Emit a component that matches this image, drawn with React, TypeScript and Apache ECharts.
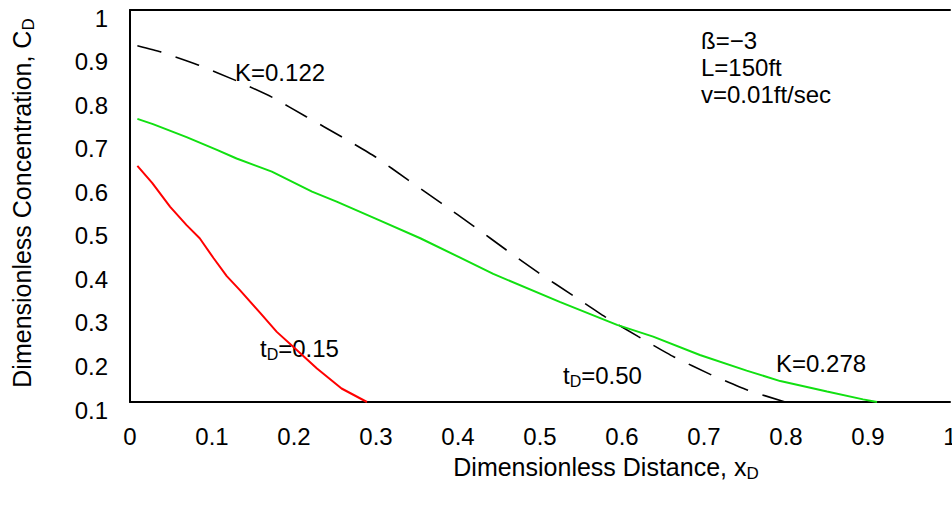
import React, { useEffect, useRef } from "react";
import * as echarts from "echarts";

const xTicks = [0, 0.1, 0.2, 0.3, 0.4, 0.5, 0.6, 0.7, 0.8, 0.9, 1];
const yTicks = [0.1, 0.2, 0.3, 0.4, 0.5, 0.6, 0.7, 0.8, 0.9, 1];

// K = 0.122 (dashed black)
const k122X = [0.009, 0.037, 0.083, 0.128, 0.173, 0.215, 0.258, 0.299, 0.339, 0.38, 0.419, 0.459, 0.498, 0.539, 0.579, 0.62, 0.663, 0.707, 0.752, 0.799];
const k122Y = [0.918, 0.904, 0.874, 0.839, 0.8, 0.755, 0.709, 0.663, 0.61, 0.556, 0.504, 0.449, 0.397, 0.346, 0.296, 0.25, 0.204, 0.164, 0.128, 0.1];

// K = 0.278 (green)
const k278X = [0.009, 0.028, 0.069, 0.106, 0.13, 0.173, 0.222, 0.252, 0.303, 0.354, 0.402, 0.443, 0.524, 0.594, 0.638, 0.695, 0.752, 0.793, 0.85, 0.894, 0.911];
const k278Y = [0.75, 0.738, 0.708, 0.679, 0.659, 0.629, 0.583, 0.56, 0.518, 0.476, 0.432, 0.394, 0.33, 0.277, 0.25, 0.208, 0.172, 0.148, 0.124, 0.106, 0.1];

// tD = 0.15 (red)
const tdX = [0.009, 0.027, 0.049, 0.069, 0.085, 0.102, 0.118, 0.134, 0.159, 0.179, 0.199, 0.228, 0.258, 0.289];
const tdY = [0.642, 0.603, 0.548, 0.506, 0.476, 0.43, 0.389, 0.357, 0.304, 0.261, 0.227, 0.177, 0.131, 0.1];

const zip = (xs: number[], ys: number[]) => xs.map((x, i) => [x, ys[i]]);

const FONT = "'Liberation Sans', Arial, Helvetica, sans-serif";
const fmt = (v: number) => String(Math.round(v * 10) / 10);

export default function App() {
  const ref = useRef<HTMLDivElement>(null);
  useEffect(() => {
    if (!ref.current) return;
    document.body.style.margin = "0";
    const chart = echarts.init(ref.current, undefined, { renderer: "svg" });
    const richSub = {
      n: { fontSize: 24, fontFamily: FONT, color: "#000" },
      s: { fontSize: 16, fontFamily: FONT, color: "#000", padding: [12, 0, 0, 0] },
    };
    const titleRich = {
      n: { fontSize: 25, fontFamily: FONT, color: "#000" },
      s: { fontSize: 17, fontFamily: FONT, color: "#000", padding: [12, 0, 0, 0] },
    };
    chart.setOption({
      animation: false,
      grid: { left: 130, top: 10, width: 820, height: 392, containLabel: false, outerBoundsMode: "none" },
      xAxis: [
        {
          type: "value",
          min: 0,
          max: 1,
          interval: 0.1,
          position: "bottom",
          axisLine: { show: true, lineStyle: { color: "#000", width: 2 } },
          axisTick: { show: false },
          splitLine: { show: false },
          axisLabel: {
            fontSize: 24,
            fontFamily: FONT,
            color: "#000",
            margin: 22,
            formatter: fmt,
            customValues: xTicks,
            hideOverlap: false,
          },
        },
        {
          type: "value",
          min: 0,
          max: 1,
          position: "top",
          axisLine: { show: true, onZero: false, lineStyle: { color: "#000", width: 2 } },
          axisTick: { show: false },
          splitLine: { show: false },
          axisLabel: { show: false },
        },
      ],
      yAxis: {
        type: "value",
        min: 0.1,
        max: 1,
        interval: 0.1,
        axisLine: { show: true, onZero: false, lineStyle: { color: "#000", width: 2 } },
        axisTick: { show: false },
        splitLine: { show: false },
        axisLabel: {
          fontSize: 24,
          fontFamily: FONT,
          color: "#000",
          margin: 22,
          lineHeight: 16,
          verticalAlign: "top",
          formatter: fmt,
          customValues: yTicks,
        },
      },
      series: [
        {
          type: "line",
          name: "K=0.122",
          data: zip(k122X, k122Y),
          showSymbol: false,
          smooth: 0.15,
          lineStyle: { color: "#000", width: 1.6, type: [25, 15] },
        },
        {
          type: "line",
          name: "K=0.278",
          data: zip(k278X, k278Y),
          showSymbol: false,
          lineStyle: { color: "#11e011", width: 2 },
        },
        {
          type: "line",
          name: "tD=0.15",
          data: zip(tdX, tdY),
          showSymbol: false,
          lineStyle: { color: "#ff0000", width: 2 },
        },
      ],
      graphic: [
        { type: "text", left: 235, top: 60, style: { text: "K=0.122", font: `24px ${FONT}`, fill: "#000" } },
        { type: "text", left: 776, top: 351, style: { text: "K=0.278", font: `24px ${FONT}`, fill: "#000" } },
        {
          type: "text",
          left: 260,
          top: 336,
          style: { text: "{n|t}{s|D}{n|=0.15}", rich: richSub },
        },
        {
          type: "text",
          left: 563,
          top: 363,
          style: { text: "{n|t}{s|D}{n|=0.50}", rich: richSub },
        },
        { type: "text", left: 701, top: 28, style: { text: "ß=−3", font: `24px ${FONT}`, fill: "#000" } },
        { type: "text", left: 701, top: 55, style: { text: "L=150ft", font: `24px ${FONT}`, fill: "#000" } },
        { type: "text", left: 701, top: 82, style: { text: "v=0.01ft/sec", font: `24px ${FONT}`, fill: "#000" } },
        {
          type: "text",
          x: 606,
          y: 467,
          style: { text: "{n|Dimensionless Distance, x}{s|D}", rich: titleRich, align: "center", verticalAlign: "middle" },
        },
        {
          type: "text",
          x: 22,
          y: 203,
          rotation: Math.PI / 2,
          style: { text: "{n|Dimensionless Concentration, C}{s|D}", rich: titleRich, align: "center", verticalAlign: "middle" },
        },
      ],
    });
    return () => chart.dispose();
  }, []);
  return <div ref={ref} style={{ position: "absolute", left: 0, top: 0, width: 952, height: 510 }} />;
}
